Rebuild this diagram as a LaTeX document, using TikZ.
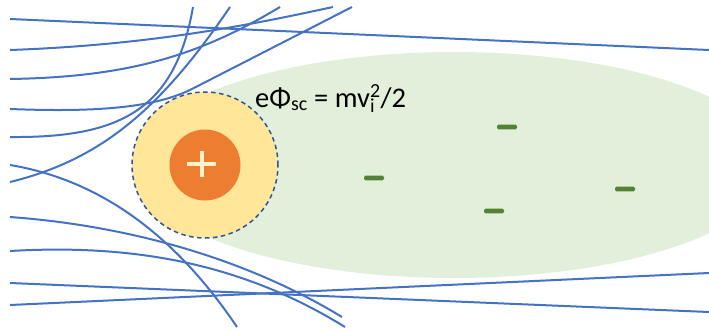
\documentclass[tikz,border=0pt]{standalone}
\usepackage{fontspec}
\setmainfont{Carlito}
\definecolor{fieldblue}{HTML}{4472C4}
\definecolor{plasmagreen}{HTML}{E2EFDA}
\definecolor{sheathyellow}{HTML}{FFE699}
\definecolor{ionorange}{HTML}{ED7D31}
\definecolor{dashblue}{HTML}{2F5597}
\definecolor{minusgreen}{HTML}{548235}
\definecolor{pluscream}{HTML}{FFF2CC}
\begin{document}
\begin{tikzpicture}[x=1pt,y=-1pt,
  field/.style={draw=fieldblue, line width=2pt},
  electron/.style={rectangle, rounded corners=1.5pt, fill=minusgreen, minimum width=20pt, minimum height=4.6pt, inner sep=0pt},
  sheath/.style={circle, fill=sheathyellow, draw=dashblue, line width=1.5pt, dash pattern=on 4.5pt off 3.5pt, minimum size=146pt, inner sep=0pt},
  ion/.style={circle, fill=ionorange, minimum size=71pt, inner sep=0pt},
  plusbar/.style={draw=pluscream, line width=4pt}]
\useasboundingbox (0,0) rectangle (709,330);
% plasma region
\fill[plasmagreen] (454,165) ellipse [x radius=320pt, y radius=113pt];
% sheath and ion
\node[sheath] (sh) at (205,165) {};
\node[ion] (ion) at (205,165) {};
\draw[plusbar] (187,164) -- (216,164);
\draw[plusbar] (201.5,151) -- (201.5,177);
% electrons
\node[electron] (e1) at (507,127) {};
\node[electron] (e2) at (374,178) {};
\node[electron] (e3) at (494,211) {};
\node[electron] (e4) at (625,189) {};
% label
\node[anchor=base west, inner sep=0pt, font=\fontsize{28.5}{34}\selectfont] (eq) at (255,107) {eΦ\textsubscript{sc} = mv\rlap{\textsubscript{i}}\textsuperscript{2}/2};
% field lines
\draw[field] (10,19) -- (709,50);
\draw[field] (10,50) .. controls (150,45) and (250,25) .. (333,7);
\draw[field] (10,79) .. controls (130,77) and (200,55) .. (280,7);
\draw[field] (10,109) .. controls (90,112) and (150,109) .. (190,90) -- (352,7);
\draw[field] (10,137) .. controls (120,138) and (175,110) .. (193,7);
\draw[field] (10,182) .. controls (100,160) and (160,110) .. (230,7);
\draw[field] (10,165) .. controls (100,180) and (175,235) .. (237,327);
\draw[field] (10,217) .. controls (120,225) and (240,255) .. (342,317);
\draw[field] (10,251) .. controls (130,244) and (240,262) .. (345,327);
\draw[field] (10,283) -- (709,312);
\draw[field] (10,305) -- (709,273);
\end{tikzpicture}
\end{document}
